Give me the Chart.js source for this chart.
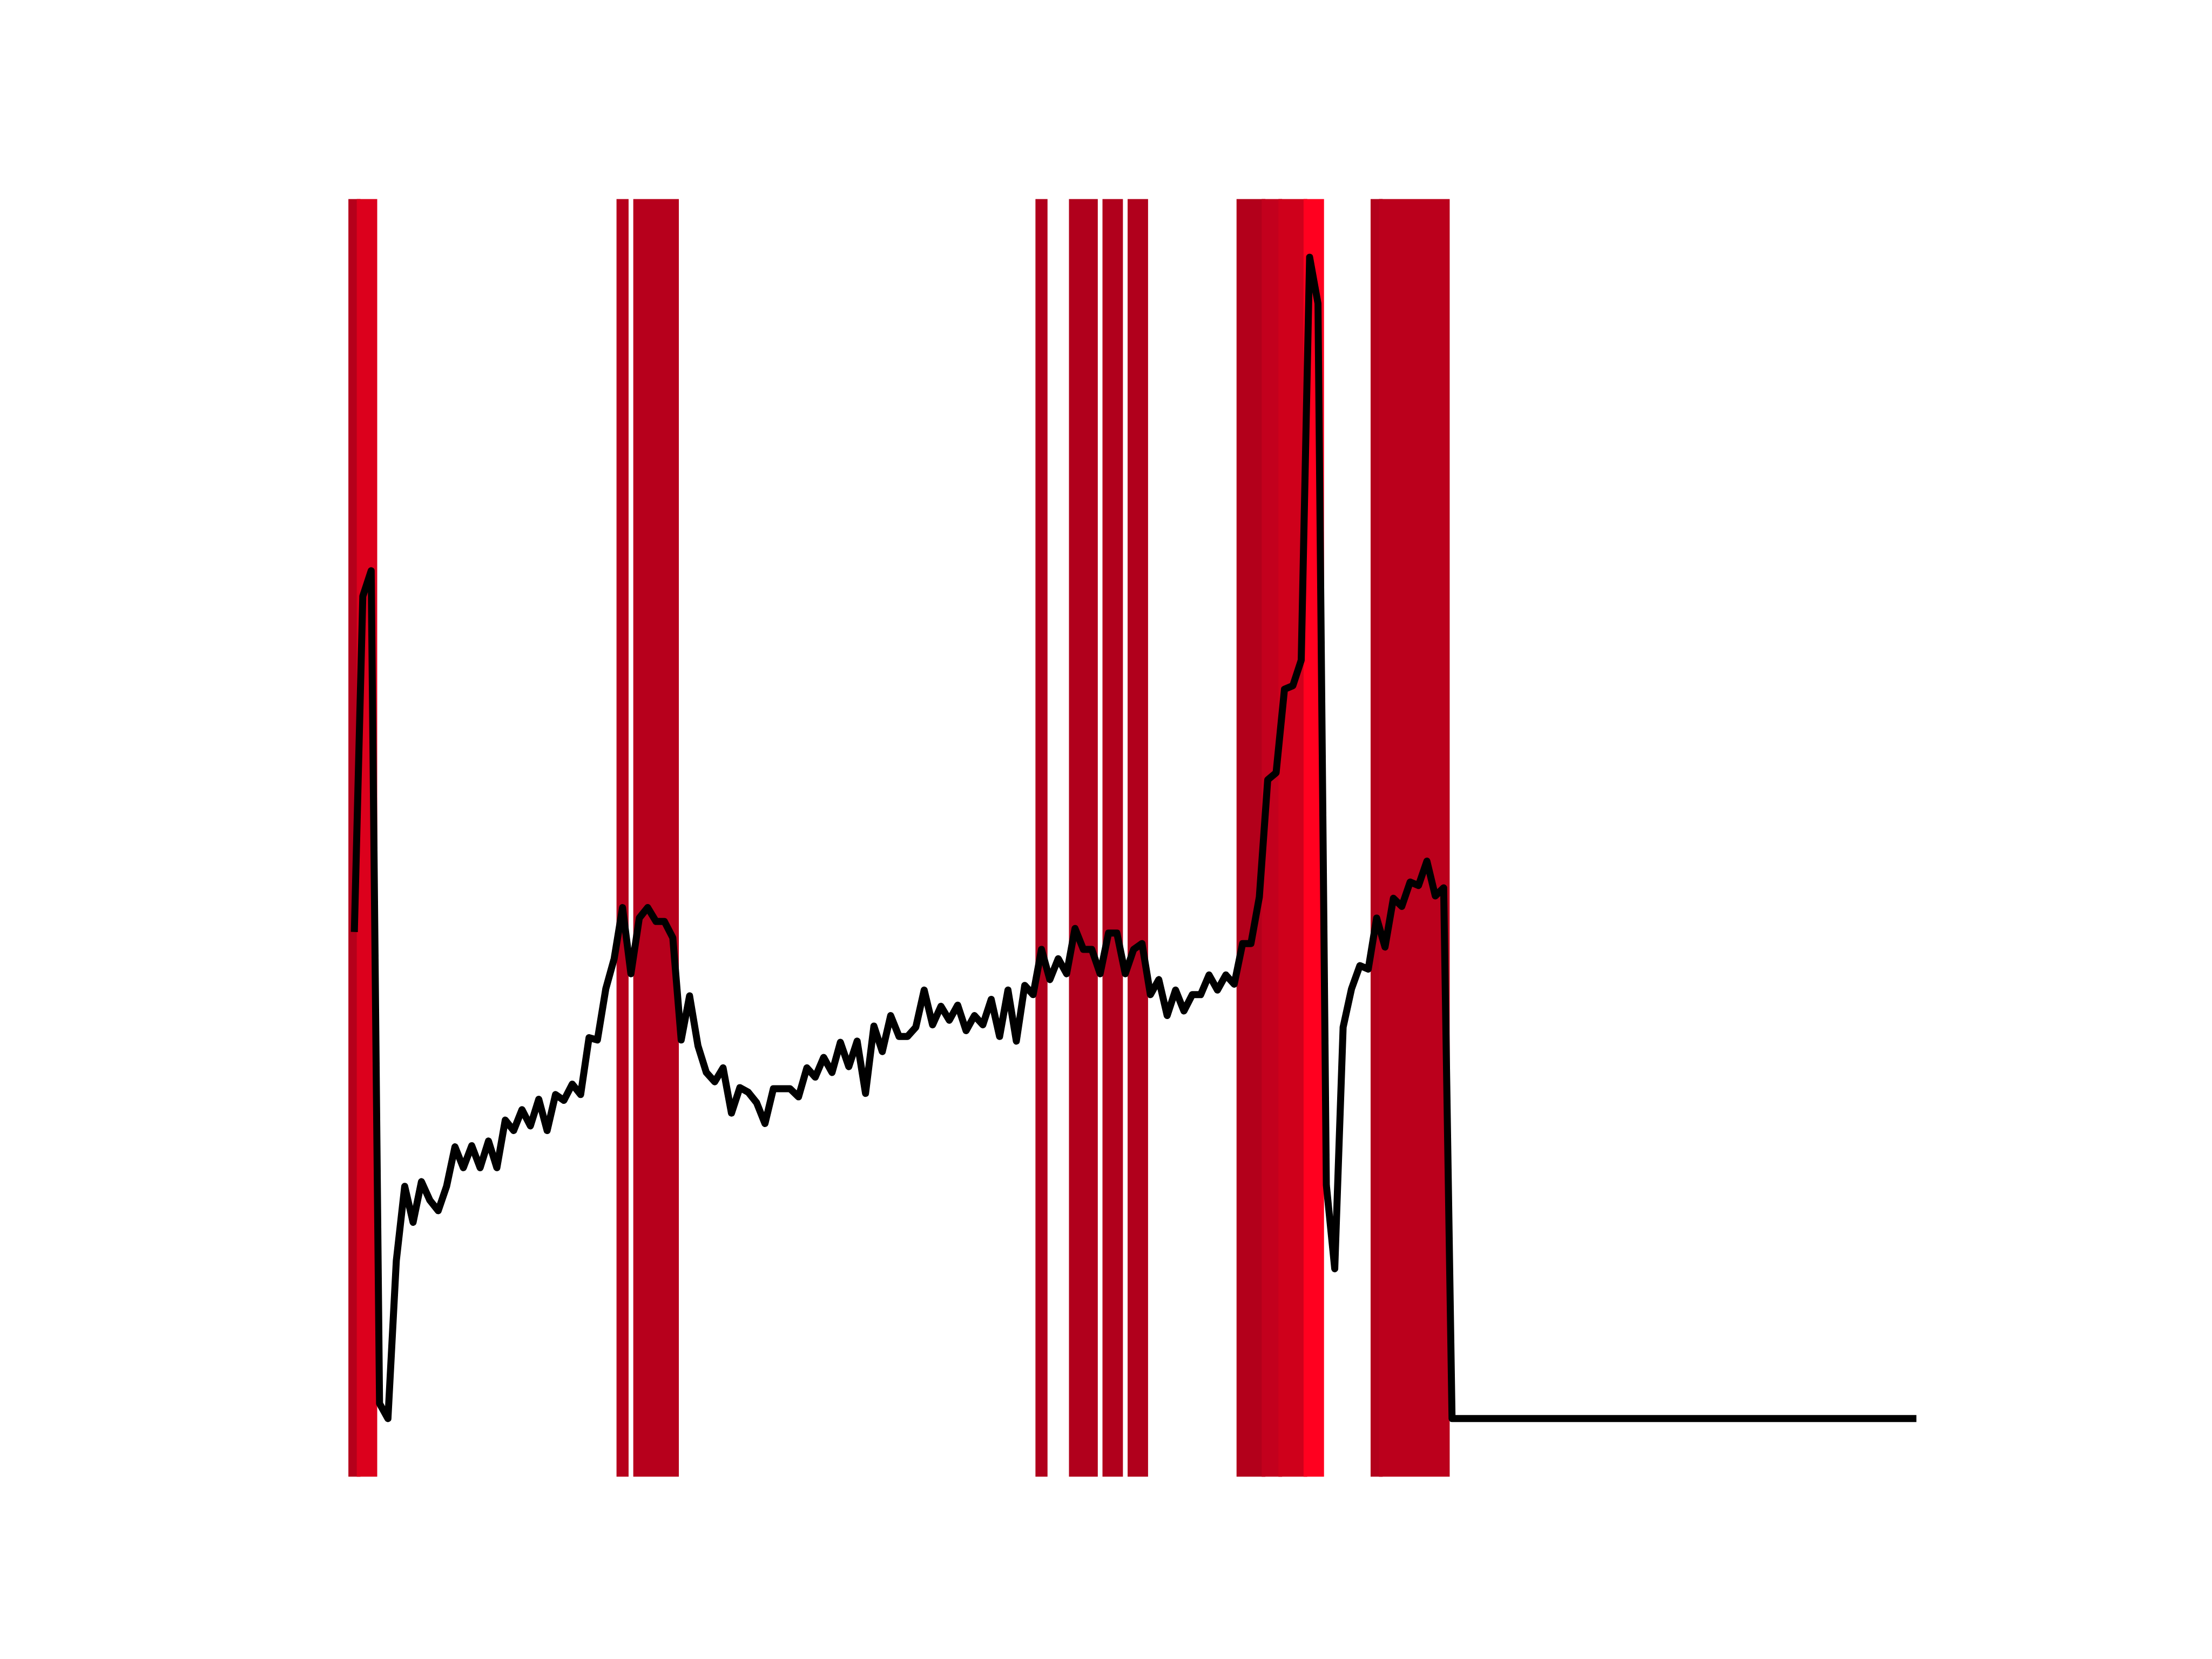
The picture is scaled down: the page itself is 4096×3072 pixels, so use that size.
<!DOCTYPE html>
<html>
<head>
<meta charset="utf-8">
<script src="https://cdn.jsdelivr.net/npm/chart.js@4"></script>
<style>
  html, body { margin: 0; padding: 0; background: #ffffff; }
  #c { display: block; }
</style>
</head>
<body>
<canvas id="c" width="4096" height="3072"></canvas>
<script>
// ---- data ----
const values = [
  42.2, 70.8, 73.0, 1.3, 0.0, 13.6, 20.0, 16.9, 20.4, 18.8,
  17.9, 20.0, 23.4, 21.6, 23.5, 21.6, 23.9, 21.6, 25.7, 24.8,
  26.6, 25.2, 27.5, 24.8, 27.9, 27.4, 28.8, 27.9, 32.8, 32.6,
  37.0, 39.6, 44.0, 38.3, 43.1, 44.0, 42.8, 42.8, 41.4, 32.6,
  36.4, 32.1, 29.8, 29.0, 30.2, 26.3, 28.5, 28.1, 27.2, 25.4,
  28.4, 28.4, 28.4, 27.7, 30.2, 29.4, 31.1, 29.8, 32.4, 30.3,
  32.5, 28.0, 33.8, 31.6, 34.7, 32.9, 32.9, 33.7, 36.9, 33.9,
  35.5, 34.3, 35.6, 33.4, 34.7, 33.9, 36.1, 32.9, 36.9, 32.5,
  37.3, 36.5, 40.4, 37.8, 39.6, 38.3, 42.2, 40.4, 40.4, 38.3,
  41.8, 41.8, 38.3, 40.4, 40.9, 36.5, 37.8, 34.7, 36.9, 35.1,
  36.5, 36.5, 38.2, 36.9, 38.2, 37.4, 40.9, 40.9, 44.9, 55.0,
  55.6, 62.8, 63.1, 65.3, 100.0, 96.0, 20.1, 12.9, 33.7, 37.0,
  39.0, 38.7, 43.1, 40.6, 44.8, 44.1, 46.2, 45.9, 48.0, 45.0,
  45.7, 0, 0, 0, 0, 0, 0, 0, 0, 0,
  0, 0, 0, 0, 0, 0, 0, 0, 0, 0,
  0, 0, 0, 0, 0, 0, 0, 0, 0, 0,
  0, 0, 0, 0, 0, 0, 0, 0, 0, 0,
  0, 0, 0, 0, 0, 0, 0, 0, 0, 0,
  0, 0, 0, 0, 0, 0, 0
];
const positions = values.map((v, i) => i);   // sample index of each point

// highlighted runs of samples (first and last sample index) and their shade
const bandFirst = [0, 1, 32, 34, 82, 86, 90, 93, 106, 109, 111, 114, 122, 123];
const bandLast  = [0, 2, 32, 38, 82, 88, 91, 94, 108, 110, 113, 115, 122, 130];
const bandColor = ['#b5001b', '#dc001c', '#b7001c', '#b7001c', '#b1001c', '#b1001c', '#b1001c',
                   '#b1001c', '#b3001b', '#c3001d', '#cf001b', '#ff001f', '#b3001c', '#bb001c'];

// ---- drawing ----
const HALF = 0.72;   // half width of a highlighted sample, in sample units
const n = values.length;
const xPad = (n - 1) * 0.05;
const yMin = Math.min(...values), yMax = Math.max(...values);
const yPad = (yMax - yMin) * 0.05;

const bandsPlugin = {
  id: 'bands',
  beforeDatasetsDraw(chart) {
    const { ctx, chartArea, scales } = chart;
    ctx.save();
    for (let k = 0; k < bandFirst.length; k++) {
      const x0 = scales.x.getPixelForValue(bandFirst[k] - HALF);
      const x1 = scales.x.getPixelForValue(bandLast[k] + HALF);
      ctx.fillStyle = bandColor[k];
      ctx.fillRect(x0, chartArea.top, x1 - x0, chartArea.bottom - chartArea.top);
    }
    ctx.restore();
  }
};

const whiteBg = {
  id: 'whiteBg',
  beforeDraw(chart) {
    const ctx = chart.ctx;
    ctx.save();
    ctx.fillStyle = '#ffffff';
    ctx.fillRect(0, 0, chart.width, chart.height);
    ctx.restore();
  }
};

new Chart(document.getElementById('c'), {
  type: 'line',
  data: {
    datasets: [{
      data: positions.map((x, i) => ({ x: x, y: values[i] })),
      borderColor: '#000000',
      borderWidth: 13,
      borderCapStyle: 'square',
      borderJoinStyle: 'round',
      pointRadius: 0,
      tension: 0,
      fill: false
    }]
  },
  options: {
    responsive: false,
    devicePixelRatio: 1,
    animation: false,
    layout: { padding: { left: 512, right: 409.6, top: 368.6, bottom: 337.6 } },
    plugins: { legend: { display: false }, tooltip: { enabled: false }, title: { display: false } },
    scales: {
      x: { type: 'linear', display: false, min: -xPad, max: (n - 1) + xPad },
      y: { type: 'linear', display: false, min: yMin - yPad, max: yMax + yPad }
    }
  },
  plugins: [whiteBg, bandsPlugin]
});
</script>
</body>
</html>
